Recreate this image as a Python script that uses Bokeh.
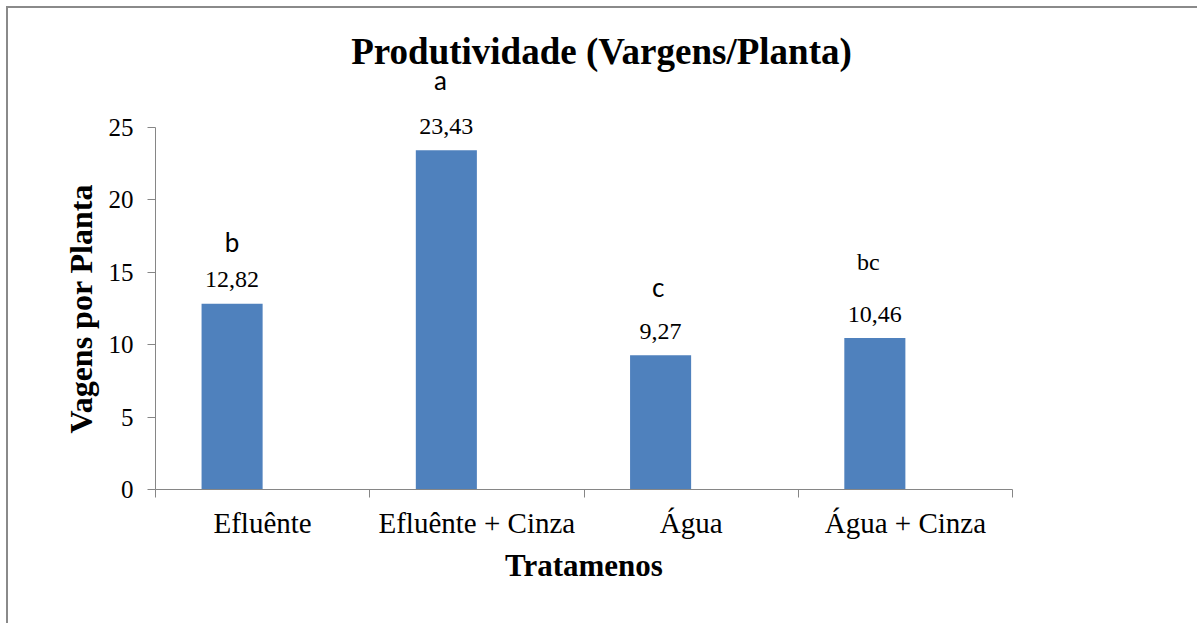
from bokeh.plotting import figure
from bokeh.models import ColumnDataSource, FixedTicker, Range1d, Label, Title
from bokeh.embed import file_html
from bokeh.resources import INLINE

# ---- data ----
categories = ["Efluênte", "Efluênte + Cinza", "Água", "Água + Cinza"]
values = [12.82, 23.43, 9.27, 10.46]
letters = ["b", "a", "c", "bc"]
y_ticks = [0, 5, 10, 15, 20, 25]

# ---- layout constants (pixels) ----
AXIS_PX = 362.0          # pixel height of 0..25
FRAME_H = 473
Y_TOP = max(y_ticks) * FRAME_H / AXIS_PX

n = len(categories)
centers = [i + 0.5 for i in range(n)]
bar_w = 0.285
bar_x = [c - bar_w / 2 for c in centers]
val_labels = [f"{v:.2f}".replace(".", ",") for v in values]

bars = ColumnDataSource(dict(x=bar_x, top=values, lab=val_labels))
let_src = ColumnDataSource(dict(
    x=bar_x, y=values, txt=letters,
    font=["Lato", "Lato", "Lato", "Liberation Serif"],
    size=["26px", "26px", "26px", "24px"],
    xo=[0, -6, -2.5, -6.5],
    yo=[-62, -70, -68, -76],
))

p = figure(width=1197, height=623, output_backend="svg", toolbar_location=None,
           x_range=Range1d(0, n), y_range=Range1d(0, Y_TOP),
           min_border_left=155, min_border_right=185, min_border_top=16,
           min_border_bottom=134)
p.border_fill_color = None
p.background_fill_color = "white"
p.styles = {
    "background": "linear-gradient(#8a8a8a,#8a8a8a) 6px 6px / 2px 100% no-repeat, "
                  "linear-gradient(#8a8a8a,#8a8a8a) 6px 6px / 100% 2px no-repeat, white"
}
p.outline_line_color = None
p.xgrid.visible = False
p.ygrid.visible = False

p.vbar(x="x", top="top", width=bar_w, source=bars, fill_color="#4F81BD", line_color=None)
p.text(x="x", y="top", text="lab", source=bars, text_align="center",
       text_baseline="alphabetic", y_offset=-24, text_font="Liberation Serif",
       text_font_size="24px", text_color="black")
p.text(x="x", y="y", text="txt", source=let_src, text_align="center",
       text_baseline="alphabetic", x_offset="xo", y_offset="yo", text_font="font",
       text_font_size="size", text_color="black")

axis_color = "#868686"
# x axis
xa = p.xaxis[0]
xa.ticker = FixedTicker(ticks=centers, minor_ticks=list(range(n + 1)))
xa.major_label_overrides = {c: lab for c, lab in zip(centers, categories)}
xa.major_tick_line_color = None
xa.major_tick_out = 0
xa.major_tick_in = 0
xa.minor_tick_out = 8
xa.minor_tick_in = 0
xa.minor_tick_line_color = axis_color
xa.axis_line_color = axis_color
xa.major_label_text_font = "Liberation Serif"
xa.major_label_text_font_size = "29px"
xa.major_label_text_color = "black"
xa.major_label_standoff = 9
xa.axis_label = "Tratamenos"
xa.axis_label_text_font = "Liberation Serif"
xa.axis_label_text_font_style = "bold"
xa.axis_label_text_font_size = "31px"
xa.axis_label_text_color = "black"
xa.axis_label_standoff = 6

# y axis
ya = p.yaxis[0]
ya.ticker = FixedTicker(ticks=y_ticks)
ya.bounds = (0, max(y_ticks))
ya.major_tick_out = 8
ya.major_tick_in = 0
ya.minor_tick_line_color = None
ya.major_tick_line_color = axis_color
ya.axis_line_color = axis_color
ya.major_label_text_font = "Liberation Serif"
ya.major_label_text_font_size = "25px"
ya.major_label_text_color = "black"
ya.major_label_standoff = 14

ytitle = Title(text="Vagens por Planta", align="left", offset=56, standoff=13,
               text_font="Liberation Serif", text_font_style="bold",
               text_font_size="32px", text_color="black")
p.add_layout(ytitle, "left")

px_per_unit = AXIS_PX / max(y_ticks)
cat_px = (1012 - 155) / n
title = Label(x=(601 - 155) / cat_px, y=(489 - 51) / px_per_unit,
              text="Produtividade (Vargens/Planta)", text_align="center",
              text_baseline="alphabetic", text_font="Liberation Serif",
              text_font_style="bold", text_font_size="37px", text_color="black")
p.add_layout(title)

open("out.html", "w").write(file_html(p, INLINE))
